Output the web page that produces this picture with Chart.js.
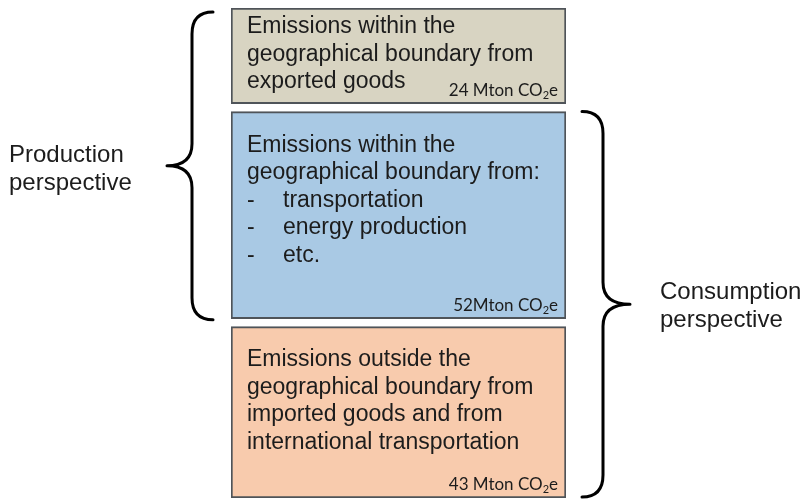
<!DOCTYPE html>
<html>
<head>
<meta charset="utf-8">
<script src="https://cdn.jsdelivr.net/npm/chart.js@4.4.1/dist/chart.umd.min.js"></script>
<style>
  html, body { margin: 0; padding: 0; background: #ffffff; }
  #wrap { width: 809px; height: 501px; }
</style>
</head>
<body>
<div id="wrap"><canvas id="c" width="809" height="501"></canvas></div>
<script>
// ---- data ----
const categories = ['Emissions'];
const segmentNames = ['Exported goods', 'Domestic sources', 'Imported goods & international transport'];
const emissions = [24, 52, 43]; // Mton CO2e
const unitSeparators = [' ', '', ' '];
const boxLines = [
  ['Emissions within the', 'geographical boundary from', 'exported goods'],
  ['Emissions within the', 'geographical boundary from:', '- transportation', '- energy production', '- etc.'],
  ['Emissions outside the', 'geographical boundary from', 'imported goods and from', 'international transportation']
];
const productionLabel = ['Production', 'perspective'];
const consumptionLabel = ['Consumption', 'perspective'];

// ---- styles / layout ----
const fillColors = ['#d8d4c2', '#a9c9e4', '#f8cbad'];
const borderColor = '#4f5459';
const textColor = '#1c1c1c';
const GAP = 2; // data units of white space between boxes
const textTopPad = [19, 34, 33];

let acc = 0;
const ranges = emissions.map(v => { const r = [acc, acc + v]; acc += v + GAP; return r; });
const yMax = acc - GAP;

const datasets = emissions.map((v, i) => ({
  label: segmentNames[i],
  data: [ranges[i]],
  backgroundColor: fillColors[i],
  borderColor: borderColor,
  borderWidth: 2,
  borderSkipped: false,
  grouped: false,
  barPercentage: 1,
  categoryPercentage: 1
}));

function boxRect(chart, i) {
  const el = chart.getDatasetMeta(i).data[0];
  const top = Math.min(el.y, el.base), bottom = Math.max(el.y, el.base);
  return { left: el.x - el.width / 2, right: el.x + el.width / 2, top, bottom };
}

function drawBrace(ctx, top, bottom, tipY, stemX, tipX, hookX) {
  const r = 22;
  ctx.beginPath();
  ctx.moveTo(hookX, top);
  ctx.quadraticCurveTo(stemX, top, stemX, top + r);
  ctx.lineTo(stemX, tipY - r);
  ctx.quadraticCurveTo(stemX, tipY, tipX, tipY);
  ctx.quadraticCurveTo(stemX, tipY, stemX, tipY + r);
  ctx.lineTo(stemX, bottom - r);
  ctx.quadraticCurveTo(stemX, bottom, hookX, bottom);
  ctx.stroke();
}

const LABEL_FONT = '17px Lato, "Open Sans", sans-serif';
const SUB_FONT = '11px Lato, "Open Sans", sans-serif';

const annotate = {
  id: 'annotate',
  afterDatasetsDraw(chart) {
    const ctx = chart.ctx;
    ctx.save();
    const boxes = emissions.map((v, i) => boxRect(chart, i));
    // box texts
    boxes.forEach((b, i) => {
      ctx.fillStyle = textColor;
      ctx.font = '23px "Liberation Sans", Arial, sans-serif';
      ctx.textBaseline = 'middle';
      ctx.textAlign = 'left';
      const tx = b.left + 16;
      boxLines[i].forEach((line, j) => {
        const y = b.top + textTopPad[i] + j * 27.5;
        if (line.startsWith('- ')) {
          ctx.fillText('-', tx, y);
          ctx.fillText(line.slice(2), tx + 36, y);
        } else {
          ctx.fillText(line, tx, y);
        }
      });
      // value label with subscript
      const main = emissions[i] + unitSeparators[i] + 'Mton CO';
      ctx.font = LABEL_FONT;
      const wMain = ctx.measureText(main).width;
      const wE = ctx.measureText('e').width;
      ctx.font = SUB_FONT;
      const wSub = ctx.measureText('2').width;
      const endX = b.right - 8;
      const ly = b.bottom - 14;
      let x = endX - wE - wSub - wMain;
      ctx.font = LABEL_FONT;
      ctx.textBaseline = 'alphabetic';
      ctx.fillText(main, x, ly + 6);
      x += wMain;
      ctx.font = SUB_FONT;
      ctx.fillText('2', x, ly + 9);
      x += wSub;
      ctx.font = LABEL_FONT;
      ctx.fillText('e', x, ly + 6);
    });
    // braces
    ctx.strokeStyle = '#000000';
    ctx.lineWidth = 3;
    ctx.lineCap = 'round';
    ctx.lineJoin = 'round';
    const lTop = boxes[0].top + 4, lBot = boxes[1].bottom + 1;
    const lTip = (lTop + lBot) / 2;
    const L = boxes[0].left;
    drawBrace(ctx, lTop, lBot, lTip, L - 39, L - 64, L - 18);
    const rTop = boxes[1].top, rBot = boxes[2].bottom - 1;
    const rTip = (rTop + rBot) / 2;
    const R = boxes[1].right;
    drawBrace(ctx, rTop, rBot, rTip, R + 37, R + 64, R + 16);
    // perspective labels
    ctx.fillStyle = textColor;
    ctx.font = '24px "Liberation Sans", Arial, sans-serif';
    ctx.textBaseline = 'middle';
    ctx.textAlign = 'left';
    productionLabel.forEach((t, j) => ctx.fillText(t, 9, lTip - 10 + j * 28));
    consumptionLabel.forEach((t, j) => ctx.fillText(t, R + 94, rTip - 12 + j * 28));
    ctx.restore();
  }
};

new Chart(document.getElementById('c'), {
  type: 'bar',
  data: { labels: categories, datasets },
  options: {
    responsive: false,
    animation: false,
    devicePixelRatio: 1,
    layout: { padding: { left: 231, right: 243, top: 8, bottom: 3 } },
    plugins: { legend: { display: false }, tooltip: { enabled: false } },
    scales: {
      x: { display: false },
      y: { display: false, reverse: true, min: 0, max: yMax }
    }
  },
  plugins: [annotate]
});
</script>
</body>
</html>
